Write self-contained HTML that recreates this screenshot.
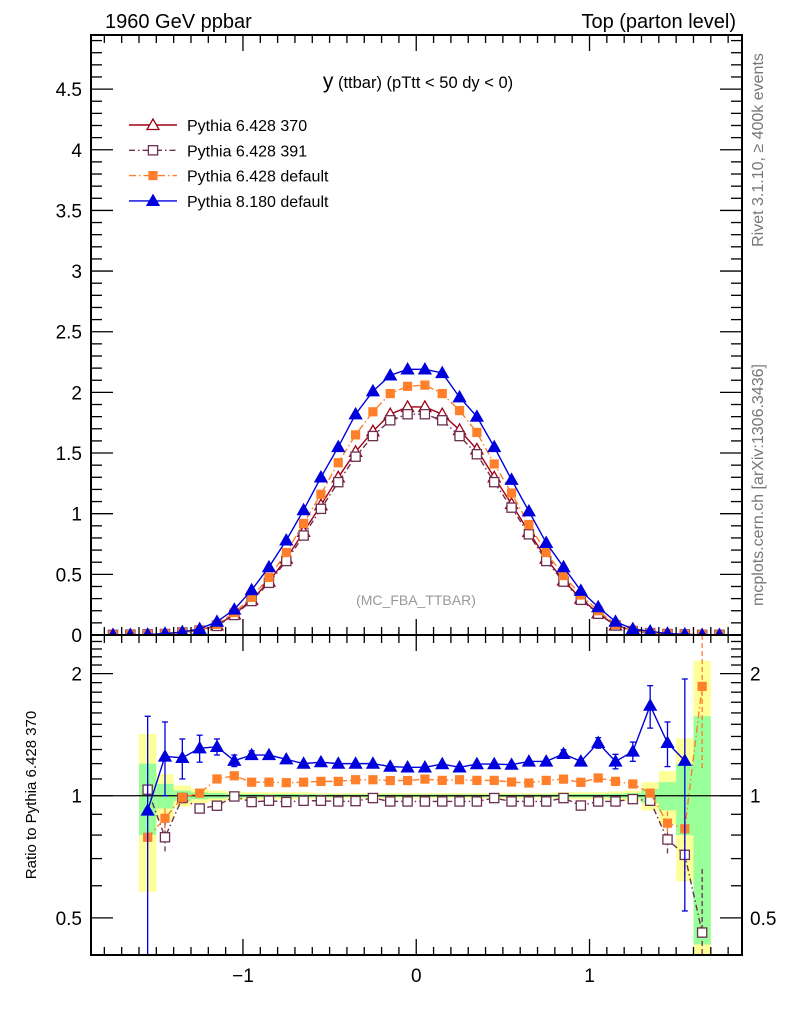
<!DOCTYPE html>
<html><head><meta charset="utf-8"><style>
html,body{margin:0;padding:0;background:#fff}
svg{display:block;font-family:"Liberation Sans",sans-serif}
</style></head><body>
<svg id="c" width="786" height="1024" viewBox="0 0 786 1024">
<defs>
<clipPath id="clipMain"><rect x="91" y="35" width="651" height="600"/></clipPath>
<clipPath id="clipRatio"><rect x="91" y="635" width="651" height="320"/></clipPath>
</defs>
<g id="bands" clip-path="url(#clipRatio)"></g>
<g id="marks"></g>
<g id="axes"></g>
<text x="105" y="28" font-size="20">1960 GeV ppbar</text>
<text x="736" y="28" font-size="20" text-anchor="end">Top (parton level)</text>
<text x="418" y="88" font-size="16.5" text-anchor="middle"><tspan font-size="21">y</tspan> (ttbar) (pTtt &lt; 50 dy &lt; 0)</text>
<text transform="translate(763,150) rotate(-90)" font-size="16" fill="#777" text-anchor="middle">Rivet 3.1.10, ≥ 400k events</text>
<text transform="translate(763,485) rotate(-90)" font-size="16" fill="#777" text-anchor="middle">mcplots.cern.ch [arXiv:1306.3436]</text>
<text x="416" y="605" font-size="14" fill="#999" text-anchor="middle">(MC_FBA_TTBAR)</text>
<text transform="translate(36,795) rotate(-90)" font-size="15" text-anchor="middle">Ratio to Pythia 6.428 370</text>
<g id="legend"></g>
</svg>
<script>
const xCenters = [-1.75,-1.65,-1.55,-1.45,-1.35,-1.25,-1.15,-1.05,-0.95,-0.85,-0.75,-0.65,-0.55,-0.45,-0.35,-0.25,-0.15,-0.05,0.05,0.15,0.25,0.35,0.45,0.55,0.65,0.75,0.85,0.95,1.05,1.15,1.25,1.35,1.45,1.55,1.65,1.75];
const ref370 = [0.001,0.002,0.004,0.01,0.02,0.04,0.08,0.17,0.29,0.44,0.63,0.85,1.07,1.30,1.51,1.68,1.82,1.88,1.88,1.82,1.69,1.53,1.30,1.08,0.85,0.63,0.45,0.30,0.18,0.08,0.04,0.02,0.01,0.005,0.002,0.001];
const p391 = [0.001,0.002,0.004,0.008,0.02,0.037,0.075,0.165,0.28,0.43,0.61,0.82,1.04,1.26,1.47,1.64,1.77,1.82,1.82,1.77,1.64,1.49,1.26,1.05,0.83,0.61,0.44,0.29,0.175,0.078,0.031,0.015,0.008,0.004,0.001,0.001];
const pdef = [0.001,0.002,0.003,0.009,0.02,0.04,0.088,0.185,0.31,0.475,0.68,0.92,1.16,1.42,1.65,1.84,1.99,2.05,2.06,1.99,1.85,1.67,1.41,1.17,0.91,0.68,0.49,0.33,0.20,0.086,0.04,0.017,0.009,0.004,0.004,0.001];
const p8 = [0.0,0.0,0.004,0.012,0.025,0.05,0.11,0.21,0.37,0.56,0.78,1.03,1.30,1.55,1.82,2.01,2.14,2.19,2.19,2.16,1.96,1.80,1.55,1.28,1.02,0.76,0.56,0.365,0.23,0.11,0.05,0.03,0.012,0.006,0.0,0.0];
const r391 = [null,null,1.035,0.79,0.987,0.93,0.945,0.996,0.965,0.972,0.965,0.972,0.972,0.968,0.97,0.987,0.968,0.968,0.968,0.968,0.968,0.968,0.987,0.968,0.968,0.968,0.987,0.946,0.968,0.968,0.981,0.972,0.78,0.715,0.46,null];
const rdef = [null,null,0.79,0.88,0.99,1.015,1.10,1.12,1.08,1.08,1.077,1.08,1.085,1.085,1.095,1.095,1.09,1.09,1.099,1.091,1.095,1.091,1.091,1.081,1.075,1.091,1.099,1.079,1.106,1.085,1.069,1.015,0.856,0.829,1.86,null];
const r8 = [null,null,0.92,1.25,1.24,1.31,1.32,1.22,1.26,1.26,1.23,1.20,1.21,1.20,1.20,1.20,1.18,1.175,1.175,1.197,1.175,1.197,1.197,1.193,1.215,1.215,1.268,1.215,1.35,1.215,1.286,1.668,1.35,1.22,null,null];
const r8ErrUp = [0,0,0.65,0.27,0.14,0.1,0.06,0.04,0.03,0.02,0.02,0.02,0.02,0.02,0.02,0.02,0.02,0.02,0.02,0.02,0.02,0.02,0.02,0.02,0.02,0.02,0.03,0.02,0.04,0.05,0.07,0.2,0.17,0.72,0,0];
const r8ErrDn = [0,0,0.7,0.25,0.14,0.1,0.06,0.04,0.03,0.02,0.02,0.02,0.02,0.02,0.02,0.02,0.02,0.02,0.02,0.02,0.02,0.02,0.02,0.02,0.02,0.02,0.03,0.02,0.04,0.05,0.07,0.2,0.17,0.7,0,0];
const r391Err = [0,0,0.05,0.07,0.03,0.02,0.01,0.01,0.01,0.01,0.01,0.01,0.01,0.01,0.01,0.01,0.01,0.01,0.01,0.01,0.01,0.01,0.01,0.01,0.01,0.01,0.01,0.01,0.01,0.01,0.01,0.02,0.07,0.1,0.2,0];
const rdefErr = [0,0,0.04,0.05,0.03,0.02,0.01,0.01,0.01,0.01,0.01,0.01,0.01,0.01,0.01,0.01,0.01,0.01,0.01,0.01,0.01,0.01,0.01,0.01,0.01,0.01,0.01,0.01,0.01,0.01,0.01,0.02,0.06,0.1,0.7,0];
const yellowErr = [0,0,0.42,0.13,0.06,0.04,0.03,0.025,0.02,0.02,0.02,0.02,0.015,0.015,0.015,0.015,0.015,0.015,0.015,0.015,0.015,0.015,0.015,0.015,0.015,0.015,0.02,0.02,0.02,0.025,0.03,0.08,0.15,0.385,1.15,0];
const greenErr = [0,0,0.2,0.07,0.03,0.02,0.015,0.012,0.01,0.01,0.01,0.01,0.008,0.008,0.008,0.008,0.008,0.008,0.008,0.008,0.008,0.008,0.008,0.008,0.008,0.008,0.01,0.01,0.01,0.012,0.015,0.04,0.08,0.2,0.57,0];
const mainTicks = [0,0.5,1,1.5,2,2.5,3,3.5,4,4.5];
const mainTickLabels = ["0","0.5","1","1.5","2","2.5","3","3.5","4","4.5"];
const ratioTicks = [0.5,1,2];
const ratioTickLabels = ["0.5","1","2"];
const xTicks = [-1,0,1];
const xTickLabels = ["\u22121","0","1"];

const L=91,R=742,T=35,M=635,B=955;
const XMIN=-1.877,XMAX=1.88;
const sx=v=>L+(v-XMIN)/(XMAX-XMIN)*(R-L);
const sy=v=>M-(v/4.946)*(M-T);
const RLMIN=Math.log10(0.405),RLMAX=Math.log10(2.49);
const sr=v=>{let l=Math.log10(Math.max(v,0.01));return B-(l-RLMIN)/(RLMAX-RLMIN)*(B-M);};
const NS='http://www.w3.org/2000/svg';
function mk(tag,attrs,parent){const e=document.createElementNS(NS,tag);for(const k in attrs)e.setAttribute(k,attrs[k]);parent.appendChild(e);return e;}
const bands=document.getElementById('bands'),marks=document.getElementById('marks'),axes=document.getElementById('axes'),legend=document.getElementById('legend');
const hw=0.05;
xCenters.forEach((x,i)=>{
  if(!yellowErr[i])return;
  const clipT=v=>Math.max(M,Math.min(B,v));
  let y1=clipT(sr(1+yellowErr[i])),y2=clipT(sr(Math.max(1-yellowErr[i],0.01)));
  let r=mk('rect',{x:sx(x-hw),y:y1,width:sx(x+hw)-sx(x-hw),height:y2-y1,fill:'#ffff99'},bands);
  
  
  y1=clipT(sr(1+greenErr[i]));y2=clipT(sr(1-greenErr[i]));
  r=mk('rect',{x:sx(x-hw),y:y1,width:sx(x+hw)-sx(x-hw),height:y2-y1,fill:'#99ff99'},bands);
  
  
});
let ref1=mk('line',{x1:L,x2:R,y1:sr(1),y2:sr(1),stroke:'#000','stroke-width':1.3},bands);



function marker(type,cx,cy,color,parent,name){
  let e;
  if(type==='tri'||type==='trif'){const s=6;e=mk('polygon',{points:`${cx},${cy-s} ${cx-s},${cy+s*0.75} ${cx+s},${cy+s*0.75}`,fill:type==='trif'?color:'#fff',stroke:color,'stroke-width':1.3},parent);}
  else {const s=4.6;e=mk('rect',{x:cx-s,y:cy-s,width:2*s,height:2*s,fill:type==='sqf'?color:'#fff',stroke:color,'stroke-width':1.3},parent);if(type==='sqf')e.setAttribute('stroke','none');}
  
  
}
const series=[
 {name:'pythia6-370',vals:ref370,rat:null,err:null,color:'#a00018',mk:'tri',dash:''},
 {name:'pythia6-391',vals:p391,rat:r391,err:r391Err,color:'#6b3050',mk:'sq',dash:'6,3,1.5,3'},
 {name:'pythia6-default',vals:pdef,rat:rdef,err:rdefErr,color:'#ff7f2a',mk:'sqf',dash:'7,3,1.5,3'},
 {name:'pythia8-default',vals:p8,rat:r8,err:null,color:'#0000dd',mk:'trif',dash:''}
];
series.forEach(s=>{
  const g=mk('g',{'clip-path':'url(#clipMain)'},marks);
  
  
  const pts=xCenters.map((x,i)=>`${sx(x)},${sy(s.vals[i])}`).join(' ');
  const pl=mk('polyline',{points:pts,fill:'none',stroke:s.color,'stroke-width':1.4,'stroke-dasharray':s.dash},g);
  
  
  xCenters.forEach((x,i)=>marker(s.mk,sx(x),sy(s.vals[i]),s.color,g,s.name+'-point'));
  const gr=mk('g',{'clip-path':'url(#clipRatio)'},marks);
  
  
  if(!s.rat)return;
  const rp=[];xCenters.forEach((x,i)=>{if(s.rat[i]!=null)rp.push(`${sx(x)},${sr(s.rat[i])}`);});
  const rl=mk('polyline',{points:rp.join(' '),fill:'none',stroke:s.color,'stroke-width':1.4,'stroke-dasharray':s.dash},gr);
  
  
  xCenters.forEach((x,i)=>{
    const v=s.rat[i];if(v==null)return;
    let up,dn;
    if(s.name==='pythia8-default'){up=v+r8ErrUp[i];dn=v-r8ErrDn[i];}else{up=v+s.err[i];dn=v-s.err[i];}
    const y1=Math.max(M,sr(up)),y2=Math.min(B,sr(Math.max(dn,0.01)));
    const el=mk('line',{x1:sx(x),x2:sx(x),y1:y1,y2:y2,stroke:s.color,'stroke-width':1.3,'stroke-dasharray':s.dash?'5,3':''},gr);
    
    
    if(s.name==='pythia8-default'&&(up-dn)>0.05){
      [y1,y2].forEach(yy=>{if(yy>M&&yy<B){const c=mk('line',{x1:sx(x)-3,x2:sx(x)+3,y1:yy,y2:yy,stroke:s.color,'stroke-width':1.3},gr);}});
    }
    marker(s.mk,sx(x),sr(v),s.color,gr,s.name+'-ratio-point');
  });
});
[[T,M],[M,B]].forEach(([a,b],k)=>{
  const f=mk('rect',{x:L,y:a,width:R-L,height:b-a,fill:'none',stroke:'#000','stroke-width':2},axes);
  
  
});
for(let i=-18;i<=18;i++){
  const v=i/10,x=sx(v);if(x<L||x>R)continue;
  const len=(i%10===0)?16:8;
  [[M,-1],[T,1],[B,-1],[M,1]].forEach(([y0,d])=>{
    const t=mk('line',{x1:x,x2:x,y1:y0,y2:y0+d*len,stroke:'#000','stroke-width':1.3},axes);
    
    
  });
}
xTicks.forEach((v,i)=>{
  const t=mk('text',{x:sx(v),y:982,'font-size':19,'text-anchor':'middle'},axes);t.textContent=xTickLabels[i];
  
  
});
for(let i=0;i<=49;i++){
  const v=i/10,y=sy(v);const maj=i%5===0;const len=maj?22:11;
  [[L,1],[R,-1]].forEach(([x0,d])=>{
    const t=mk('line',{x1:x0,x2:x0+d*len,y1:y,y2:y,stroke:'#000','stroke-width':1.3},axes);
    
    
  });
}
mainTicks.forEach((v,i)=>{
  const t=mk('text',{x:82,y:sy(v)+7,'font-size':19,'text-anchor':'end'},axes);t.textContent=mainTickLabels[i];
  
  
});
const rmin=[0.5,0.6,0.7,0.8,0.9,1,1.1,1.2,1.3,1.4,1.5,1.6,1.7,1.8,1.9,2,2.1,2.2,2.3,2.4];
rmin.forEach(v=>{
  const y=sr(v);const maj=ratioTicks.includes(v);const len=maj?22:11;
  [[L,1],[R,-1]].forEach(([x0,d])=>{
    const t=mk('line',{x1:x0,x2:x0+d*len,y1:y,y2:y,stroke:'#000','stroke-width':1.3},axes);
    
    
  });
});
ratioTicks.forEach((v,i)=>{
  let t=mk('text',{x:82,y:sr(v)+7,'font-size':19,'text-anchor':'end'},axes);t.textContent=ratioTickLabels[i];
  
  
  t=mk('text',{x:750,y:sr(v)+7,'font-size':19},axes);t.textContent=ratioTickLabels[i];
  
  
});
const legLabels=['Pythia 6.428 370','Pythia 6.428 391','Pythia 6.428 default','Pythia 8.180 default'];
series.forEach((s,i)=>{
  const y=125+i*25.3;
  const g=mk('g',{},legend);
  
  
  const l=mk('line',{x1:129,x2:177,y1:y,y2:y,stroke:s.color,'stroke-width':1.4,'stroke-dasharray':s.dash},g);
  
  
  marker(s.mk,153,y,s.color,g,'legend-marker');
  const t=mk('text',{x:187,y:y+6,'font-size':16},g);t.textContent=legLabels[i];
  
  
});
</script>
</body></html>
